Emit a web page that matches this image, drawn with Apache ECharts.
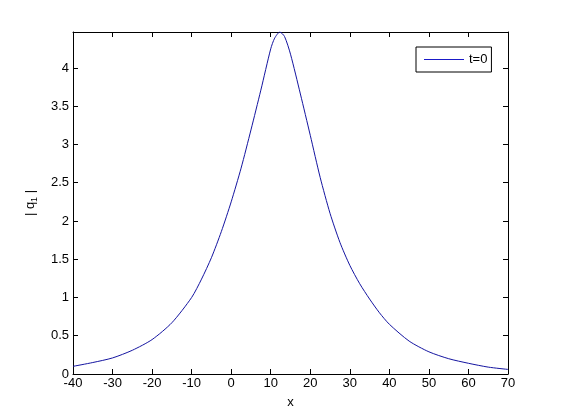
<!DOCTYPE html>
<html>
<head>
<meta charset="utf-8">
<script src="https://cdn.jsdelivr.net/npm/echarts@6/dist/echarts.min.js"></script>
<style>
  html, body { margin: 0; padding: 0; background: #fff; }
  #chart { width: 561px; height: 420px; }
</style>
</head>
<body>
<div id="chart"></div>
<script>
// values
var xValues = [-40, -35, -30, -25, -20, -15, -10, -7.5, -5, -2.5, 0, 2.5, 5, 7.5, 10, 11, 12.3, 13.5, 15, 17.5, 20, 22.5, 25, 27.5, 30, 32.5, 35, 37.5, 40, 45, 50, 55, 60, 65, 70];
var q1Values = [0.10, 0.15, 0.21, 0.31, 0.45, 0.67, 1.00, 1.24, 1.52, 1.86, 2.25, 2.69, 3.19, 3.71, 4.25, 4.39, 4.47, 4.41, 4.18, 3.66, 3.12, 2.57, 2.10, 1.72, 1.42, 1.18, 0.98, 0.80, 0.65, 0.43, 0.29, 0.20, 0.14, 0.09, 0.06];
var seriesName = 't=0';

var font = 'Liberation Sans, Arial, sans-serif';
var lineColor = '#1414a0';

var myChart = echarts.init(document.getElementById('chart'), null, { renderer: 'canvas' });

var points = [];
for (var i = 0; i < xValues.length; i++) {
    points.push([xValues[i], q1Values[i]]);
}

// box axes with inward ticks on all four sides, like matlab
var axisLine = { show: true, onZero: false, lineStyle: { color: '#000', width: 1 } };
var axisTick = { show: true, inside: true, length: 5, lineStyle: { color: '#000', width: 1 } };

var option = {
    backgroundColor: '#fff',
    animation: false,
    grid: { left: 73, right: 53, top: 32, bottom: 46 },
    legend: {
        // thin rect as the legend line
        data: [{ name: seriesName, icon: 'rect', itemStyle: { color: '#1a1ac8', borderWidth: 0 } }],
        left: 416,
        top: 47,
        orient: 'vertical',
        backgroundColor: '#fff',
        borderColor: '#000',
        borderWidth: 1,
        borderRadius: 0,
        padding: [5, 4, 5, 8],
        itemWidth: 40,
        itemHeight: 1,
        itemGap: 5,
        textStyle: { fontFamily: font, fontSize: 13, color: '#000', lineHeight: 15 }
    },
    xAxis: [{
        type: 'value',
        min: -40,
        max: 70,
        interval: 10,
        name: 'x',
        nameLocation: 'middle',
        nameGap: 22,
        nameTextStyle: { fontFamily: font, fontSize: 13, color: '#000' },
        axisLine: axisLine,
        axisTick: axisTick,
        splitLine: { show: false },
        axisLabel: { fontFamily: font, fontSize: 13, color: '#000', margin: 3 }
    }, {
        type: 'value',
        position: 'top',
        min: -40,
        max: 70,
        interval: 10,
        axisLine: axisLine,
        axisTick: axisTick,
        splitLine: { show: false },
        axisLabel: { show: false }
    }],
    yAxis: [{
        type: 'value',
        min: 0,
        max: 4.47,
        interval: 0.5,
        name: '| q{sub|1} |',
        nameLocation: 'middle',
        nameGap: 34,
        nameTextStyle: {
            fontFamily: font, fontSize: 13, color: '#000',
            rich: { sub: { fontFamily: font, fontSize: 9, color: '#000', padding: [8, 0, 0, 0] } }
        },
        axisLine: axisLine,
        axisTick: axisTick,
        splitLine: { show: false },
        axisLabel: { fontFamily: font, fontSize: 13, color: '#000', margin: 4, showMaxLabel: false }
    }, {
        type: 'value',
        position: 'right',
        min: 0,
        max: 4.47,
        interval: 0.5,
        axisLine: axisLine,
        axisTick: axisTick,
        splitLine: { show: false },
        axisLabel: { show: false }
    }],
    series: [{
        name: seriesName,
        type: 'line',
        data: points,
        symbol: 'none',
        smooth: 0.25,
        clip: true,
        lineStyle: { color: lineColor, width: 1 },
        itemStyle: { color: lineColor }
    }]
};

myChart.setOption(option);
</script>
</body>
</html>
